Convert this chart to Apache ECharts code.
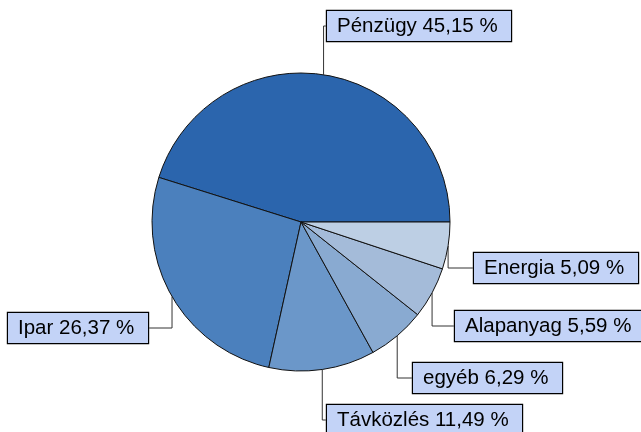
<!DOCTYPE html>
<html><head><meta charset="utf-8">
<script src="https://cdn.jsdelivr.net/npm/echarts@6/dist/echarts.min.js"></script>
<style>html,body{margin:0;padding:0;background:#fff}#c{width:641px;height:432px}</style>
</head><body><div id="c"></div>
<script>
const categories = ['Pénzügy', 'Ipar', 'Távközlés', 'egyéb', 'Alapanyag', 'Energia'];
const values = [45.15, 26.37, 11.49, 6.29, 5.59, 5.09];
const sliceColors = ['#2b65ad', '#4b80bd', '#6b97c9', '#89aad1', '#a4bbd9', '#bdcfe4'];
// label box top-left positions (annotation placement)
const labelPos = [[327, 11], [8, 313], [327, 405], [413, 363], [455, 311], [474, 253]];

const FONT_SIZE = 20.5, FONT_FAMILY = 'Liberation Sans';
const fmt = (n, v) => n + ' ' + v.toFixed(2).replace('.', ',') + ' %';
const mctx = document.createElement('canvas').getContext('2d');
mctx.font = FONT_SIZE + 'px ' + FONT_FAMILY;
const textWidth = s => Math.ceil(mctx.measureText(s).width) + 1;

const chart = echarts.init(document.getElementById('c'), null, {renderer: 'canvas'});
chart.setOption({
  animation: false,
  series: [{
    type: 'pie',
    center: [301, 222],
    radius: 149,
    startAngle: 0,
    clockwise: false,
    silent: true,
    data: categories.map((n, i) => ({
      name: n, value: values[i],
      itemStyle: {color: sliceColors[i]},
      label: {width: textWidth(fmt(n, values[i]))}
    })),
    itemStyle: {borderColor: '#111', borderWidth: 1},
    label: {
      show: true,
      overflow: 'none',
      formatter: p => fmt(p.name, p.value),
      fontFamily: FONT_FAMILY,
      fontSize: FONT_SIZE,
      color: '#000',
      backgroundColor: '#c3d3f7',
      borderColor: '#000',
      borderWidth: 1.2,
      padding: [5, 12, 4, 10]
    },
    labelLine: {show: true, lineStyle: {color: '#333', width: 1}},
    labelLayout: function (params) {
      const p = labelPos[params.dataIndex];
      return {x: p[0], y: p[1], align: 'left', verticalAlign: 'top'};
    }
  }]
});
</script>
</body></html>
